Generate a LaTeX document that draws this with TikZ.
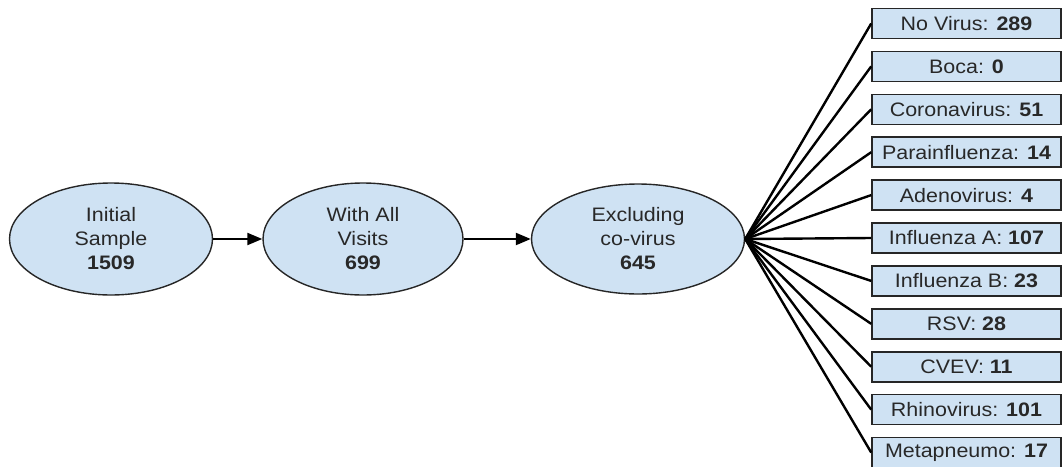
\documentclass[tikz,border=0pt]{standalone}
\usepackage{fontspec}
\setmainfont{Liberation Sans}
\usetikzlibrary{shapes.geometric,arrows.meta}
\definecolor{fillblue}{RGB}{207,226,243}
\definecolor{txt}{RGB}{40,40,40}
\newcommand\widetxt[1]{\scalebox{1.1}[1]{#1}}
\tikzset{
  oval/.style={ellipse, draw=black!85, line width=1.4pt, fill=fillblue, inner sep=0pt,
    font=\fontsize{19.5}{24}\selectfont, text=txt, align=center},
  vbox/.style={rectangle, draw=black!85, line width=1.6pt, fill=fillblue, minimum width=189pt,
    minimum height=30pt, inner sep=0pt, font=\fontsize{19.5}{24}\selectfont, text=txt},
  flow/.style={line width=2.2pt, -{Triangle[length=15pt,width=12pt]}},
  fan/.style={line width=2.4pt, black}
}
\begin{document}
\begin{tikzpicture}[x=1pt,y=-1pt]
\useasboundingbox (0,0) rectangle (1062,466);
\node[oval, minimum width=203pt, minimum height=112pt] (e1) at (111,239)
  {\widetxt{Initial}\\\widetxt{Sample}\\\widetxt{\textbf{1509}}};
\node[oval, minimum width=200pt, minimum height=112pt] (e2) at (363,239)
  {\widetxt{With All}\\\widetxt{Visits}\\\widetxt{\textbf{699}}};
\node[oval, minimum width=213pt, minimum height=110pt] (e3) at (638,239)
  {\widetxt{Excluding}\\\widetxt{co-virus}\\\widetxt{\textbf{645}}};
\draw[flow] (e1) -- (e2);
\draw[flow] (e2) -- (e3);
\foreach \i/\t in {0/{No Virus: \textbf{289}},1/{Boca: \textbf{0}},2/{Coronavirus: \textbf{51}},
  3/{Parainfluenza: \textbf{14}},4/{Adenovirus: \textbf{4}},5/{Influenza A: \textbf{107}},
  6/{Influenza B: \textbf{23}},7/{RSV: \textbf{28}},8/{CVEV: \textbf{11}},
  9/{Rhinovirus: \textbf{101}},10/{Metapneumo: \textbf{17}}}{
  \node[vbox] (b\i) at (966.5,{23.5+42.9*\i}) {\widetxt{\t}};
  \draw[fan] (e3.east) -- (b\i.west);
}
\end{tikzpicture}
\end{document}
